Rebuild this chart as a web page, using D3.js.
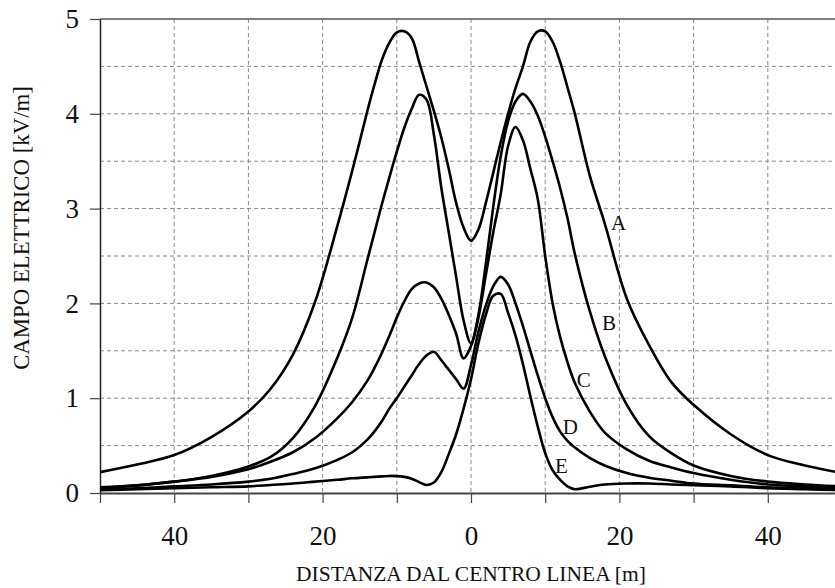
<!DOCTYPE html>
<html>
<head>
<meta charset="utf-8">
<script src="https://cdn.jsdelivr.net/npm/d3@7"></script>
<style>
  body { margin: 0; background: #fff; }
  svg { display: block; font-family: "Liberation Serif", "Times New Roman", serif; }
</style>
</head>
<body>
<div id="chart"></div>
<script>
// distance from the line centre [m], shared by all curves
const distances = [-50, -45, -40, -35, -30, -27, -24, -21, -18, -16,
  -14, -13, -12, -11, -10, -9, -8, -7, -6, -5, -4, -3, -2, -1, 0,
  1, 2, 3, 4, 5, 6, 7, 8, 9, 10, 11, 12, 13, 14,
  16, 18, 21, 24, 27, 30, 35, 40, 45, 50];

// electric field [kV/m]
const fieldA = [0.22, 0.30, 0.40, 0.59, 0.86, 1.10, 1.46, 2.02, 2.82, 3.40,
  4.02, 4.31, 4.57, 4.75, 4.86, 4.87, 4.80, 4.55, 4.29, 4.03, 3.75, 3.42, 3.06, 2.80, 2.66,
  2.78, 3.06, 3.38, 3.70, 4.00, 4.27, 4.50, 4.76, 4.87, 4.87, 4.76, 4.55, 4.28, 4.00,
  3.35, 2.85, 2.05, 1.56, 1.17, 0.93, 0.62, 0.40, 0.29, 0.21];
const fieldB = [0.05, 0.08, 0.12, 0.18, 0.28, 0.38, 0.58, 0.92, 1.43, 1.85,
  2.45, 2.75, 3.05, 3.33, 3.60, 3.85, 4.05, 4.20, 4.15, 3.78, 3.22, 2.75, 2.28, 1.82, 1.58,
  1.88, 2.42, 3.02, 3.55, 3.92, 4.13, 4.21, 4.13, 3.98, 3.76, 3.50, 3.22, 2.90, 2.52,
  1.92, 1.45, 0.93, 0.60, 0.42, 0.29, 0.18, 0.12, 0.09, 0.07];
const fieldC = [0.06, 0.08, 0.12, 0.17, 0.25, 0.33, 0.43, 0.58, 0.79, 0.96,
  1.18, 1.32, 1.48, 1.66, 1.85, 2.02, 2.15, 2.21, 2.22, 2.17, 2.05, 1.88, 1.68, 1.42, 1.55,
  1.85, 2.30, 2.75, 3.15, 3.66, 3.86, 3.72, 3.42, 3.10, 2.50, 2.00, 1.65, 1.38, 1.16,
  0.86, 0.64, 0.46, 0.34, 0.27, 0.21, 0.14, 0.09, 0.07, 0.05];
const fieldD = [0.04, 0.05, 0.07, 0.09, 0.12, 0.15, 0.20, 0.26, 0.35, 0.43,
  0.56, 0.65, 0.76, 0.89, 1.00, 1.12, 1.24, 1.36, 1.45, 1.49, 1.40, 1.30, 1.20, 1.10, 1.35,
  1.70, 1.98, 2.18, 2.28, 2.20, 2.00, 1.76, 1.50, 1.24, 1.00, 0.80, 0.65, 0.55, 0.48,
  0.37, 0.29, 0.21, 0.16, 0.13, 0.10, 0.08, 0.06, 0.05, 0.04];
const fieldE = [0.03, 0.04, 0.05, 0.06, 0.07, 0.085, 0.10, 0.12, 0.14, 0.155,
  0.165, 0.17, 0.175, 0.18, 0.178, 0.17, 0.15, 0.115, 0.085, 0.11, 0.22, 0.41, 0.62, 0.89, 1.20,
  1.58, 1.88, 2.08, 2.10, 1.90, 1.66, 1.36, 1.02, 0.70, 0.42, 0.24, 0.14, 0.07, 0.04,
  0.066, 0.09, 0.10, 0.10, 0.09, 0.083, 0.07, 0.05, 0.04, 0.03];

const seriesNames = ['A', 'B', 'C', 'D', 'E'];
const seriesValues = [fieldA, fieldB, fieldC, fieldD, fieldE];
// where each curve letter sits, in data units [m, kV/m]
const labelX = [19.9, 18.6, 15.2, 13.4, 12.2];
const labelY = [2.85, 1.79, 1.19, 0.70, 0.29];

const xTicks = [-50, -40, -30, -20, -10, 0, 10, 20, 30, 40, 50];
const yTicks = [0, 1, 2, 3, 4, 5];
const yGrid = [0.5, 1, 1.5, 2, 2.5, 3, 3.5, 4, 4.5];

const width = 835, height = 588;
const margin = { top: 19, left: 100 };
const plotRight = 842;   // the frame runs a little past the window edge
const plotBottom = 493;

const svg = d3.select('#chart').append('svg')
    .attr('width', width)
    .attr('height', height);

const x = d3.scaleLinear().domain([-50, 50]).range([margin.left, plotRight]);
const y = d3.scaleLinear().domain([0, 5]).range([plotBottom, margin.top]);

// dashed grid
const grid = svg.append('g').attr('stroke', '#8a8a8a').attr('stroke-width', 1)
    .attr('stroke-dasharray', '4,3');
grid.selectAll('.vg').data(xTicks.filter(d => d > -50 && d < 50)).enter()
    .append('line')
    .attr('x1', d => x(d)).attr('x2', d => x(d))
    .attr('y1', y(5)).attr('y2', y(0));
grid.selectAll('.hg').data(yGrid).enter()
    .append('line')
    .attr('x1', x(-50)).attr('x2', x(50))
    .attr('y1', d => y(d)).attr('y2', d => y(d));

// frame: top border
svg.append('line')
    .attr('x1', x(-50)).attr('x2', x(50))
    .attr('y1', y(5)).attr('y2', y(5))
    .attr('stroke', '#555').attr('stroke-width', 1.5);

// axes
const xAxis = d3.axisBottom(x)
    .tickValues(xTicks)
    .tickSize(10)
    .tickSizeOuter(0)
    .tickPadding(23)
    .tickFormat(d => (d % 20 === 0 && Math.abs(d) < 50) ? Math.abs(d) : '');
const gx = svg.append('g')
    .attr('transform', `translate(0,${y(0)})`)
    .call(xAxis);
gx.select('.domain').attr('stroke', '#444').attr('stroke-width', 2);
gx.selectAll('.tick line').attr('stroke', '#444').attr('stroke-width', 1.2);
gx.selectAll('.tick text')
    .attr('font-family', '"Liberation Serif", serif')
    .attr('font-size', 27)
    .attr('fill', '#111');

const yAxis = d3.axisLeft(y)
    .tickValues(yTicks)
    .tickSize(10)
    .tickSizeOuter(0)
    .tickPadding(11)
    .tickFormat(d3.format('d'));
const gy = svg.append('g')
    .attr('transform', `translate(${x(-50)},0)`)
    .call(yAxis);
gy.select('.domain').attr('stroke', '#222').attr('stroke-width', 1.5);
gy.selectAll('.tick line').attr('stroke', '#444').attr('stroke-width', 1.2);
gy.selectAll('.tick text')
    .attr('font-family', '"Liberation Serif", serif')
    .attr('font-size', 27)
    .attr('fill', '#111');

// curves
const line = d3.line()
    .x(d => x(d[0]))
    .y(d => y(d[1]))
    .curve(d3.curveCatmullRom.alpha(0.5));

svg.append('g').selectAll('path')
    .data(seriesValues)
    .enter()
    .append('path')
    .attr('d', vals => line(distances.map((d, i) => [d, vals[i]])))
    .attr('fill', 'none')
    .attr('stroke', '#000')
    .attr('stroke-width', 2.6)
    .attr('stroke-linejoin', 'round');

// curve letters
svg.append('g').selectAll('text')
    .data(seriesNames)
    .enter()
    .append('text')
    .attr('x', (d, i) => x(labelX[i]))
    .attr('y', (d, i) => y(labelY[i]))
    .attr('text-anchor', 'middle')
    .attr('dominant-baseline', 'central')
    .attr('font-size', 21)
    .attr('fill', '#111')
    .text(d => d);

// axis titles
svg.append('text')
    .attr('x', x(0))
    .attr('y', 581)
    .attr('text-anchor', 'middle')
    .attr('font-size', 21.5)
    .attr('fill', '#111')
    .text('DISTANZA DAL CENTRO LINEA [m]');

svg.append('text')
    .attr('transform', 'translate(29,228) rotate(-90)')
    .attr('text-anchor', 'middle')
    .attr('font-size', 22.8)
    .attr('fill', '#111')
    .text('CAMPO ELETTRICO [kV/m]');
</script>
</body>
</html>
